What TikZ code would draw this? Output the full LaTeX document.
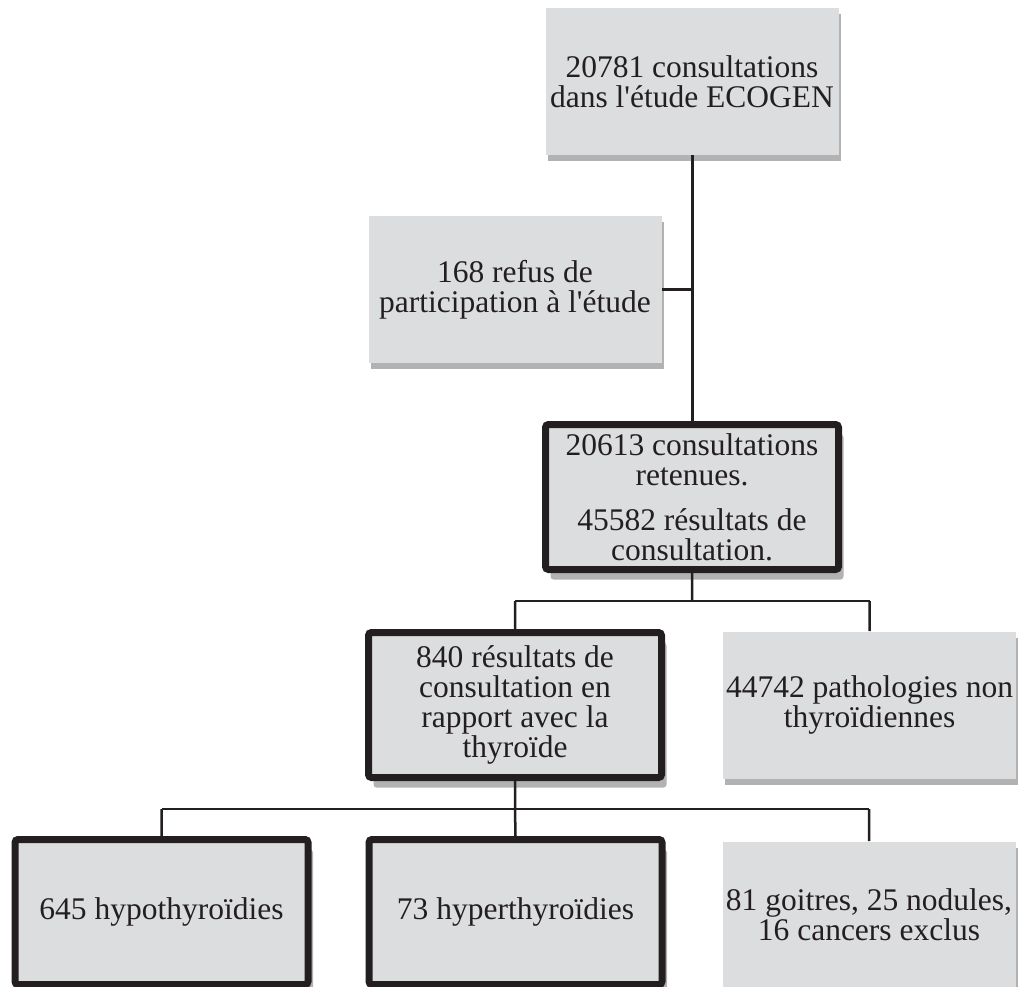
\documentclass[tikz,border=0pt]{standalone}
\usepackage{fontspec}
\newfontfamily\boxfont{Liberation Serif}
\usetikzlibrary{shadows}
\definecolor{boxgray}{HTML}{DCDDDF}
\definecolor{ink}{HTML}{231F20}

\begin{document}
\begin{tikzpicture}[x=0.5pt,y=-0.5pt,font=\boxfont\fontsize{15.75}{15}\selectfont,text=ink]
            \tikzstyle{box}=[fill=boxgray, align=center, inner sep=0pt, minimum width=146.5pt]
            \tikzstyle{plain}=[box, minimum height=73.5pt,
                drop shadow={shadow xshift=1pt, shadow yshift=-3pt, fill=black, opacity=0.3}]
            \tikzstyle{kept}=[box, draw=ink, line width=3.5pt, rounded corners=1.5pt, minimum height=72.5pt,
                drop shadow={shadow xshift=2.5pt, shadow yshift=-5pt, fill=black, opacity=0.3}]
            \tikzstyle{trunk}=[draw=ink, line width=1.5pt]
            \tikzstyle{drop}=[draw=ink, line width=1.25pt]
            \tikzstyle{bar}=[draw=ink, line width=0.65pt]

            \useasboundingbox (0,0) rectangle (1018,986);
            \clip (0,0) rectangle (1018,986);

            \node[plain] (total)    at (692,81.5)   {20781 consultations\\dans l'étude ECOGEN};
            \node[plain] (refus)    at (515,289.5)  {168 refus de\\participation à l'étude};
            \node[kept]  (retenues) at (692,497)    {20613 consultations\\retenues.\\[7.5pt]45582 résultats de\\consultation.};
            \node[kept]  (thyro)    at (515,705)    {840 résultats de\\consultation en\\rapport avec la\\thyroïde};
            \node[plain] (nonthyro) at (869.5,705)  {44742 pathologies non\\thyroïdiennes};
            \node[kept]  (hypo)     at (161.5,912)  {645 hypothyroïdies};
            \node[kept]  (hyper)    at (515.5,912)  {73 hyperthyroïdies};
            \node[plain] (exclus)   at (869,915)    {81 goitres, 25 nodules,\\16 cancers exclus};

            \coordinate (j1) at (692,601);
            \coordinate (j2) at (515,809);

            \path[trunk]
                (total) -- (retenues)
                (refus.east) -- (refus.east -| total.south)
                ;

            \path[drop]
                (retenues.south) -- (j1)
                (j1 -| thyro.north) -- (thyro.north)
                (j1 -| nonthyro.north) -- (nonthyro.north)
                (thyro.south) -- (j2)
                (j2 -| hypo.north) -- (hypo.north)
                (j2 -| exclus.north) -- (exclus.north)
                (j2) -- (hyper.north)
                ;

            \path[bar]
                (j1 -| thyro.north) -- (j1 -| nonthyro.north)
                (j2 -| hypo.north) -- (j2 -| exclus.north)
                ;
        \end{tikzpicture}
\end{document}
